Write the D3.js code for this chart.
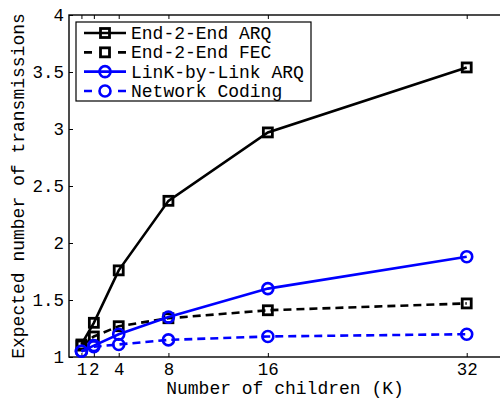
<!DOCTYPE html>
<html>
<head>
<meta charset="utf-8">
<script src="https://cdn.jsdelivr.net/npm/d3@7"></script>
<style>
  body { margin: 0; background: #fff; }
  text { font-family: "Liberation Mono", "DejaVu Sans Mono", monospace; }
</style>
</head>
<body>
<div id="chart"></div>
<script>
var w = 500, h = 398;

var xValues = [1, 2, 4, 8, 16, 32];
var e2eArq = [1.11, 1.30, 1.76, 2.37, 2.97, 3.54];
var e2eFec = [1.10, 1.18, 1.27, 1.34, 1.41, 1.47];
var linkArq = [1.05, 1.10, 1.20, 1.35, 1.60, 1.88];
var netCoding = [1.05, 1.09, 1.11, 1.15, 1.18, 1.20];
var yTicks = [1, 1.5, 2, 2.5, 3, 3.5, 4];
var seriesNames = ["End-2-End ARQ", "End-2-End FEC", "LinK-by-Link ARQ", "Network Coding"];

var series = [
  { name: seriesNames[0], values: e2eArq, color: "#000", dash: null, marker: "square" },
  { name: seriesNames[1], values: e2eFec, color: "#000", dash: "8,5", marker: "square" },
  { name: seriesNames[2], values: linkArq, color: "#0000ff", dash: null, marker: "circle" },
  { name: seriesNames[3], values: netCoding, color: "#0000ff", dash: "8,5", marker: "circle" }
];

var mLeft = 69, mRight = 504, mTop = 15, mBottom = 357;

var x = d3.scaleLinear().domain([0, 35]).range([mLeft, mRight]);
var y = d3.scaleLinear().domain([1, 4]).range([mBottom, mTop]);

var svg = d3.select("#chart").append("svg")
  .attr("width", w)
  .attr("height", h);

// axes box
svg.append("rect")
  .attr("x", mLeft).attr("y", mTop)
  .attr("width", mRight - mLeft).attr("height", mBottom - mTop)
  .attr("fill", "none").attr("stroke", "#000").attr("stroke-width", 1.4);

var fs = "18px";

var xAxis = svg.append("g")
  .attr("transform", `translate(0,${mBottom})`)
  .call(d3.axisBottom(x).tickValues(xValues).tickSizeInner(-4).tickSizeOuter(0).tickPadding(6));
var xAxisTop = svg.append("g")
  .attr("transform", `translate(0,${mTop})`)
  .call(d3.axisTop(x).tickValues(xValues).tickSizeInner(-4).tickSizeOuter(0).tickFormat(""));
var yAxis = svg.append("g")
  .attr("transform", `translate(${mLeft},0)`)
  .call(d3.axisLeft(y).tickValues(yTicks).tickSizeInner(-4).tickSizeOuter(0).tickPadding(5).tickFormat(d3.format("")));
var yAxisRight = svg.append("g")
  .attr("transform", `translate(${mRight},0)`)
  .call(d3.axisRight(y).tickValues(yTicks).tickSizeInner(-4).tickSizeOuter(0).tickFormat(""));

[xAxis, xAxisTop, yAxis, yAxisRight].forEach(a => {
  a.select(".domain").remove();
  a.selectAll("line").attr("stroke", "#000").attr("stroke-width", 1);
  a.selectAll("text").attr("fill", "#000").style("font-size", "17.5px")
    .style("font-family", '"Liberation Mono", monospace');
});

var line = d3.line()
  .x((d, i) => x(xValues[i]))
  .y(d => y(d));

function drawMarker(g, type, cx, cy, color) {
  if (type === "square") {
    g.append("rect")
      .attr("x", cx - 4.5).attr("y", cy - 4.5)
      .attr("width", 9).attr("height", 9)
      .attr("fill", "none").attr("stroke", color).attr("stroke-width", 2.8);
  } else {
    g.append("circle")
      .attr("cx", cx).attr("cy", cy).attr("r", 5.5)
      .attr("fill", "none").attr("stroke", color).attr("stroke-width", 2.6);
  }
}

series.forEach(s => {
  var g = svg.append("g");
  g.append("path")
    .attr("d", line(s.values))
    .attr("fill", "none")
    .attr("stroke", s.color)
    .attr("stroke-width", 2.6)
    .attr("stroke-dasharray", s.dash);
  s.values.forEach((v, i) => drawMarker(g, s.marker, x(xValues[i]), y(v), s.color));
});

// legend
var legend = svg.append("g");
legend.append("rect")
  .attr("x", 76).attr("y", 22).attr("width", 235).attr("height", 79)
  .attr("fill", "#fff").attr("stroke", "#000").attr("stroke-width", 1.2);
var rowY = d3.scalePoint().domain(seriesNames).range([33, 91]);
series.forEach(s => {
  var cy = rowY(s.name);
  legend.append("line")
    .attr("x1", 84).attr("x2", 126).attr("y1", cy).attr("y2", cy)
    .attr("stroke", s.color).attr("stroke-width", 2.6)
    .attr("stroke-dasharray", s.dash ? "8,26" : null);
  drawMarker(legend, s.marker, 105, cy, s.color);
  legend.append("text")
    .attr("x", 131).attr("y", cy).attr("dy", "0.33em")
    .style("font-size", fs)
    .text(s.name);
});

svg.append("text")
  .attr("x", 285).attr("y", 394)
  .attr("text-anchor", "middle")
  .style("font-size", fs)
  .text("Number of children (K)");

svg.append("text")
  .attr("transform", "translate(24,186) rotate(-90)")
  .attr("text-anchor", "middle")
  .style("font-size", fs)
  .text("Expected number of transmissions");
</script>
</body>
</html>
